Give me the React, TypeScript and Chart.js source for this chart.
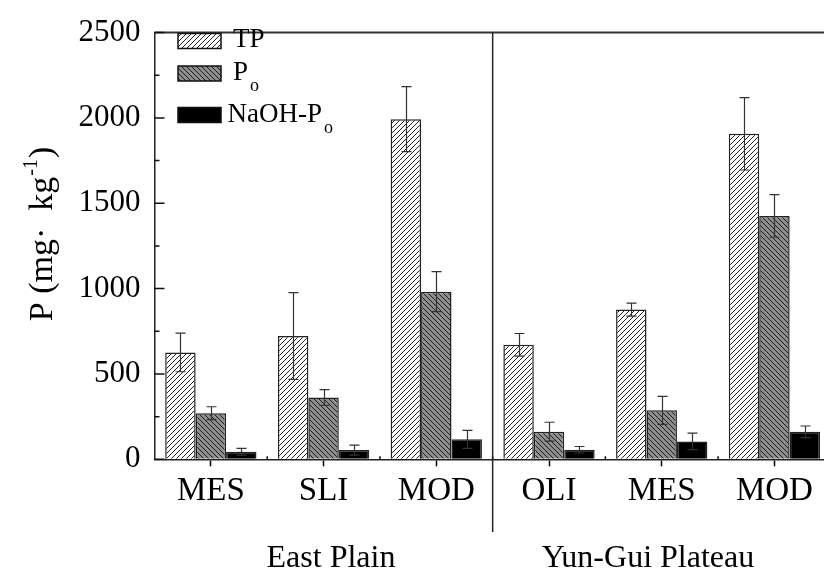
import React, { useEffect, useRef } from "react";
import { Chart, registerables } from "chart.js";

Chart.register(...registerables);

// ---- data ----
const categories = ["MES", "SLI", "MOD", "OLI", "MES", "MOD"];
const regionNames = ["East Plain", "Yun-Gui Plateau"];
const seriesNames = ["TP", "P", "NaOH-P"];
const seriesSubs = ["", "o", "o"];
const tpValues = [626, 722, 1993, 671, 877, 1907];
const tpErrors = [113, 254, 190, 66, 38, 212];
const poValues = [270, 362, 982, 162, 287, 1426];
const poErrors = [38, 46, 117, 55, 82, 125];
const naohValues = [44, 54, 117, 56, 105, 161];
const naohErrors = [20, 29, 53, 19, 48, 34];
const yTickValues = [0, 500, 1000, 1500, 2000, 2500];
const yTickLabels = ["0", "500", "1000", "1500", "2000", "2500"];

const FONT = "'Liberation Serif', 'Times New Roman', serif";

function makePattern(
  ctx: CanvasRenderingContext2D,
  bg: string,
  line: string,
  dir: "/" | "\\",
  s: number
) {
  const c = document.createElement("canvas");
  c.width = s;
  c.height = s;
  const g = c.getContext("2d")!;
  g.fillStyle = bg;
  g.fillRect(0, 0, s, s);
  g.strokeStyle = line;
  g.lineWidth = 1;
  g.beginPath();
  if (dir === "/") {
    g.moveTo(-1, s + 1);
    g.lineTo(s + 1, -1);
    g.moveTo(-1, 1);
    g.lineTo(1, -1);
    g.moveTo(s - 1, s + 1);
    g.lineTo(s + 1, s - 1);
  } else {
    g.moveTo(-1, -1);
    g.lineTo(s + 1, s + 1);
    g.moveTo(s - 1, -1);
    g.lineTo(s + 1, 1);
    g.moveTo(-1, s - 1);
    g.lineTo(1, s + 1);
  }
  g.stroke();
  return ctx.createPattern(c, "repeat") as CanvasPattern;
}

export default function App() {
  const ref = useRef<HTMLCanvasElement | null>(null);

  useEffect(() => {
    const canvas = ref.current!;
    const ctx = canvas.getContext("2d")!;
    const tpPat = makePattern(ctx, "#ffffff", "#222222", "/", 5);
    const poPat = makePattern(ctx, "#8e8e8e", "#1a1a1a", "\\", 5);
    const fills: (string | CanvasPattern)[] = [tpPat, poPat, "#000000"];
    const errorSets = [tpErrors, poErrors, naohErrors];
    const valueSets = [tpValues, poValues, naohValues];

    const decor = {
      id: "decor",
      afterDatasetsDraw(chart: any) {
        const c = chart.ctx as CanvasRenderingContext2D;
        const ys = chart.scales.y;
        const xs = chart.scales.x;
        const area = chart.chartArea;
        c.save();
        // error bars
        c.strokeStyle = "#333";
        c.lineWidth = 1.2;
        for (let d = 0; d < valueSets.length; d++) {
          const meta = chart.getDatasetMeta(d);
          meta.data.forEach((bar: any, i: number) => {
            const v = valueSets[d][i];
            const e = errorSets[d][i];
            const yt = ys.getPixelForValue(v + e);
            const yb = ys.getPixelForValue(v - e);
            const x = Math.round(bar.x) + 0.5;
            c.beginPath();
            c.moveTo(x, yt);
            c.lineTo(x, yb);
            c.moveTo(x - 5, yt);
            c.lineTo(x + 5, yt);
            c.moveTo(x - 5, yb);
            c.lineTo(x + 5, yb);
            c.stroke();
          });
        }
        // top frame line
        c.strokeStyle = "#333";
        c.lineWidth = 2;
        c.beginPath();
        c.moveTo(area.left, area.top);
        c.lineTo(chart.width, area.top);
        c.stroke();
        // inward y ticks
        c.strokeStyle = "#111";
        c.lineWidth = 1.5;
        c.beginPath();
        for (let k = 0; k < yTickValues.length; k++) {
          const y = ys.getPixelForValue(yTickValues[k]);
          c.moveTo(area.left, y);
          c.lineTo(area.left + 10, y);
          if (k < yTickValues.length - 1) {
            const ym = ys.getPixelForValue((yTickValues[k] + yTickValues[k + 1]) / 2);
            c.moveTo(area.left, ym);
            c.lineTo(area.left + 5, ym);
          }
        }
        // minor x ticks at category boundaries
        for (let i = 0; i < categories.length - 1; i++) {
          const xb = (xs.getPixelForValue(i) + xs.getPixelForValue(i + 1)) / 2;
          c.moveTo(xb, area.bottom);
          c.lineTo(xb, area.bottom - 3);
        }
        c.stroke();
        // region divider
        const half = categories.length / 2;
        const xd =
          (xs.getPixelForValue(half - 1) + xs.getPixelForValue(half)) / 2;
        c.strokeStyle = "#222";
        c.lineWidth = 1.5;
        c.beginPath();
        c.moveTo(xd, area.top);
        c.lineTo(xd, 532);
        c.stroke();
        // region labels
        c.fillStyle = "#000";
        c.font = `32px ${FONT}`;
        c.textAlign = "center";
        c.textBaseline = "alphabetic";
        c.fillText(regionNames[0], 331, 567);
        c.fillText(regionNames[1], 648, 567);
        // y-axis title
        c.save();
        c.translate(52, 234);
        c.rotate(-Math.PI / 2);
        c.textAlign = "left";
        const main = "P (mg·  kg";
        c.font = `34px ${FONT}`;
        const w1 = c.measureText(main).width;
        c.font = `20px ${FONT}`;
        const w2 = c.measureText("-1").width;
        c.font = `34px ${FONT}`;
        const w3 = c.measureText(")").width;
        const total = w1 + w2 + w3 + 2;
        let x0 = -total / 2;
        c.fillText(main, x0, 0);
        x0 += w1 + 1;
        c.font = `20px ${FONT}`;
        c.fillText("-1", x0, -15);
        x0 += w2 + 1;
        c.font = `34px ${FONT}`;
        c.fillText(")", x0, 0);
        c.restore();
        // legend
        const rows = [
          { boxTop: 33.5, base: 47, tx: 233 },
          { boxTop: 66, base: 80, tx: 233 },
          { boxTop: 107.5, base: 121.5, tx: 227.5 },
        ];
        for (let d = 0; d < seriesNames.length; d++) {
          const r = rows[d];
          c.fillStyle = fills[d] as any;
          c.fillRect(178, r.boxTop, 43, 15);
          c.strokeStyle = "#111";
          c.lineWidth = 1.5;
          c.strokeRect(178, r.boxTop, 43, 15);
          c.fillStyle = "#000";
          c.font = `27px ${FONT}`;
          c.textAlign = "left";
          c.fillText(seriesNames[d], r.tx, r.base);
          if (seriesSubs[d]) {
            const tw = c.measureText(seriesNames[d]).width;
            c.font = `18px ${FONT}`;
            c.fillText(seriesSubs[d], r.tx + tw + 2, r.base + 11);
          }
        }
        c.restore();
      },
    };

    const chart = new Chart(canvas, {
      type: "bar",
      data: {
        labels: categories,
        datasets: valueSets.map((vals, d) => ({
          label: seriesNames[d] + seriesSubs[d],
          data: vals,
          backgroundColor: fills[d] as any,
          borderColor: "#222",
          borderWidth: 1.5,
          categoryPercentage: 0.81,
          barPercentage: 1.0,
        })),
      },
      options: {
        responsive: false,
        animation: false,
        layout: { padding: { top: 23, right: 9.2, left: 0, bottom: 0 } },
        plugins: {
          legend: { display: false },
          tooltip: { enabled: false },
        },
        scales: {
          x: {
            type: "category",
            offset: true,
            grid: {
              display: true,
              drawOnChartArea: false,
              drawTicks: true,
              tickLength: 7,
              offset: false,
              color: "#000",
              tickColor: "#000",
              tickWidth: 1.5,
            },
            border: { display: true, color: "#222", width: 1.5 },
            ticks: {
              font: { family: FONT, size: 33 },
              color: "#000",
              padding: 5,
              maxRotation: 0,
              autoSkip: false,
            },
            afterFit: (s: any) => {
              s.height = 117.7;
            },
          },
          y: {
            min: 0,
            max: 2500,
            afterBuildTicks: (s: any) => {
              s.ticks = yTickValues.map((v) => ({ value: v }));
            },
            ticks: {
              font: { family: FONT, size: 31 },
              color: "#000",
              padding: 14,
              callback: (_v: any, i: number) => yTickLabels[i],
            },
            grid: { display: true, drawOnChartArea: false, drawTicks: false },
            border: { display: true, color: "#222", width: 1.5 },
            afterFit: (s: any) => {
              s.width = 154.5;
            },
          },
        },
      },
      plugins: [decor],
    });
    return () => chart.destroy();
  }, []);

  return (
    <div
      style={{
        position: "fixed",
        left: 0,
        top: 0,
        width: 824,
        height: 577,
        overflow: "hidden",
        background: "#fff",
      }}
    >
      <canvas
        ref={ref}
        width={840}
        height={577}
        style={{ width: 840, height: 577, display: "block" }}
      />
    </div>
  );
}
